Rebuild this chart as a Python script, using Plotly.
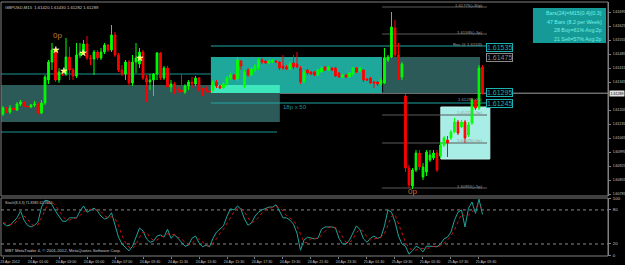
import plotly.graph_objects as go

# ---------------- data ----------------
opens = [
    1.61185, 1.61215, 1.61195, 1.61215, 1.61205, 1.61235, 1.61245, 1.61225, 1.6122, 1.6123,
    1.61235, 1.6119, 1.6124, 1.61355, 1.61445, 1.61505, 1.61355, 1.61395, 1.61385, 1.6147,
    1.61405, 1.61375, 1.6148, 1.6149, 1.61535, 1.61465, 1.6146, 1.61495, 1.61465, 1.61495,
    1.6153, 1.61505, 1.6158, 1.6148, 1.61405, 1.61385, 1.61445, 1.6134, 1.61445, 1.61435,
    1.61495, 1.61365, 1.61345, 1.61355, 1.61385, 1.6149, 1.61365, 1.61415, 1.6132, 1.61335,
    1.6131, 1.61305, 1.61295, 1.61325, 1.61345, 1.61335, 1.61365, 1.61305, 1.61315, 1.613,
    1.61305, 1.61345, 1.61325, 1.61315, 1.61335, 1.61365, 1.6138, 1.6136, 1.6145, 1.61325,
    1.61405, 1.6138, 1.61405, 1.61415, 1.61455, 1.6145, 1.6144, 1.61445, 1.6145, 1.61445,
    1.61425, 1.6142, 1.6141, 1.6144, 1.61435, 1.61415, 1.61345, 1.61405, 1.61395, 1.61395,
    1.6138, 1.61395, 1.6142, 1.61405, 1.61415, 1.61415, 1.6139, 1.6137, 1.6138, 1.6137,
    1.61385, 1.61415, 1.614, 1.61405, 1.6136, 1.61365, 1.61345, 1.61345, 1.61335, 1.6134,
    1.61455, 1.6147, 1.61615, 1.6148, 1.6137, 1.61275, 1.60915, 1.60825, 1.60905, 1.6099,
    1.6087, 1.60895, 1.60955, 1.60965, 1.6099, 1.60975, 1.6103, 1.61055, 1.61065, 1.61095,
    1.61145, 1.6112, 1.61145, 1.6108, 1.6114, 1.61255, 1.61215, 1.6142,
]
highs = [
    1.61225, 1.6122, 1.6123, 1.6122, 1.61245, 1.61255, 1.6125, 1.61235, 1.61235, 1.6125,
    1.61245, 1.61255, 1.6138, 1.61455, 1.6154, 1.61515, 1.61415, 1.61405, 1.61565, 1.6152,
    1.61415, 1.6154, 1.6154, 1.61555, 1.61575, 1.6148, 1.61505, 1.61505, 1.61515, 1.6154,
    1.61535, 1.6163, 1.61595, 1.6149, 1.6143, 1.61455, 1.61455, 1.6148, 1.6154, 1.61515,
    1.61505, 1.6138, 1.61385, 1.6139, 1.61495, 1.61495, 1.61425, 1.61425, 1.61355, 1.61345,
    1.61325, 1.61385, 1.61335, 1.61355, 1.6137, 1.61375, 1.6137, 1.61315, 1.61325, 1.6131,
    1.61355, 1.61355, 1.6133, 1.61345, 1.61375, 1.6139, 1.61385, 1.6147, 1.61455, 1.61405,
    1.61415, 1.6142, 1.61435, 1.61465, 1.61465, 1.61455, 1.61455, 1.6146, 1.61455, 1.6145,
    1.6148, 1.6143, 1.61445, 1.6148, 1.61495, 1.61425, 1.61405, 1.6141, 1.614, 1.614,
    1.6141, 1.61425, 1.61425, 1.61425, 1.6142, 1.6142, 1.61395, 1.61385, 1.61385, 1.61395,
    1.6142, 1.6142, 1.6142, 1.6141, 1.61365, 1.6137, 1.6135, 1.6135, 1.61365, 1.61515,
    1.6148, 1.61695, 1.61655, 1.6154, 1.61445, 1.61285, 1.6093, 1.60915, 1.61005, 1.61005,
    1.6094, 1.61005, 1.61005, 1.61005, 1.61005, 1.61045, 1.61075, 1.61075, 1.61105, 1.61165,
    1.61155, 1.61155, 1.61155, 1.61145, 1.61265, 1.6126, 1.6143, 1.6143,
]
lows = [
    1.61175, 1.6119, 1.61185, 1.612, 1.612, 1.61225, 1.6122, 1.6121, 1.61215, 1.6122,
    1.6118, 1.61185, 1.6123, 1.61335, 1.61405, 1.61345, 1.6134, 1.61375, 1.61375, 1.61355,
    1.61355, 1.61365, 1.61465, 1.6148, 1.61455, 1.6143, 1.6138, 1.61455, 1.61455, 1.61485,
    1.61495, 1.61495, 1.6147, 1.61395, 1.61375, 1.61355, 1.61325, 1.61325, 1.6139, 1.61415,
    1.61355, 1.61245, 1.61305, 1.61275, 1.61355, 1.61355, 1.61355, 1.61265, 1.61295, 1.61285,
    1.6129, 1.61275, 1.61285, 1.61305, 1.61315, 1.61325, 1.61295, 1.61275, 1.6129, 1.61285,
    1.61295, 1.61315, 1.6131, 1.6131, 1.61325, 1.61355, 1.61355, 1.6135, 1.61405, 1.61315,
    1.6137, 1.61375, 1.61395, 1.61405, 1.61435, 1.61435, 1.61435, 1.6144, 1.6144, 1.61405,
    1.61405, 1.61405, 1.61405, 1.6141, 1.61415, 1.61335, 1.6134, 1.6138, 1.6138, 1.61375,
    1.61375, 1.6139, 1.614, 1.614, 1.614, 1.6137, 1.61365, 1.61365, 1.61365, 1.61365,
    1.61375, 1.6139, 1.61395, 1.61345, 1.6135, 1.61335, 1.61315, 1.61325, 1.61325, 1.61335,
    1.61445, 1.61465, 1.6147, 1.61355, 1.61355, 1.60895, 1.60815, 1.6081, 1.60895, 1.60905,
    1.60855, 1.60875, 1.60945, 1.60955, 1.60895, 1.60965, 1.6102, 1.6097, 1.61055, 1.6109,
    1.6108, 1.61115, 1.6104, 1.6107, 1.6113, 1.61205, 1.61205, 1.61282,
]
closes = [
    1.61215, 1.61195, 1.61215, 1.61205, 1.61235, 1.61245, 1.61225, 1.6122, 1.6123, 1.61235,
    1.6119, 1.6124, 1.6137, 1.61445, 1.61505, 1.61355, 1.61395, 1.61385, 1.6147, 1.61405,
    1.61375, 1.6148, 1.6149, 1.61535, 1.61465, 1.6146, 1.61495, 1.61465, 1.61495, 1.6153,
    1.61505, 1.6158, 1.6148, 1.61405, 1.61385, 1.61445, 1.6134, 1.61445, 1.61465, 1.61495,
    1.61365, 1.61345, 1.61355, 1.61385, 1.6149, 1.61365, 1.61415, 1.6132, 1.61335, 1.6131,
    1.61305, 1.61295, 1.61325, 1.61345, 1.61335, 1.61365, 1.61305, 1.61295, 1.613, 1.61295,
    1.61345, 1.61325, 1.61315, 1.61335, 1.61365, 1.6138, 1.6136, 1.61455, 1.61425, 1.61395,
    1.6138, 1.6141, 1.61425, 1.61455, 1.61445, 1.6144, 1.6145, 1.61455, 1.61445, 1.61415,
    1.61415, 1.6141, 1.61435, 1.6142, 1.6142, 1.61345, 1.61395, 1.6139, 1.61385, 1.6138,
    1.61405, 1.61415, 1.61405, 1.6142, 1.61405, 1.61375, 1.6137, 1.6138, 1.6137, 1.6139,
    1.61415, 1.61395, 1.61415, 1.61355, 1.61355, 1.6134, 1.6134, 1.61335, 1.61355, 1.61465,
    1.6147, 1.6162, 1.6148, 1.6137, 1.61435, 1.60915, 1.6083, 1.60905, 1.6099, 1.6092,
    1.6092, 1.60995, 1.6098, 1.6099, 1.60905, 1.6103, 1.61065, 1.6104, 1.61095, 1.61145,
    1.6109, 1.61145, 1.61065, 1.6113, 1.61255, 1.61215, 1.61415, 1.61289,
]
stoch_main = [
    57, 52, 53, 60, 66, 78, 62, 53, 50, 53,
    59, 85, 97, 96, 89, 78, 69, 60, 60, 66,
    66, 66, 78, 87, 76, 80, 83, 78, 69, 64,
    66, 75, 53, 32, 20, 13, 8, 16, 32, 48,
    43, 29, 23, 25, 34, 36, 32, 46, 30, 36,
    30, 22, 16, 18, 30, 34, 22, 15, 18, 15,
    30, 41, 46, 52, 69, 82, 80, 87, 81, 64,
    53, 57, 69, 76, 80, 83, 85, 85, 89, 78,
    66, 66, 62, 55, 39, 9, 27, 32, 30, 29,
    30, 46, 50, 50, 50, 48, 30, 20, 20, 27,
    41, 52, 45, 29, 23, 30, 34, 30, 32, 52,
    80, 76, 59, 34, 20, 16, 2, 8, 16, 13,
    6, 16, 16, 15, 15, 20, 29, 32, 41, 62,
    76, 80, 50, 83, 94, 74, 99, 72,
]
stoch_signal = [
    58, 56, 54, 55, 60, 68, 69, 64, 55, 52,
    54, 66, 80, 93, 94, 88, 79, 69, 63, 62,
    64, 66, 70, 77, 80, 81, 80, 80, 77, 70,
    66, 68, 65, 53, 35, 22, 14, 12, 19, 32,
    41, 40, 32, 26, 27, 32, 34, 38, 36, 37,
    32, 29, 23, 19, 21, 27, 29, 24, 18, 16,
    21, 29, 39, 46, 56, 68, 77, 83, 83, 77,
    66, 58, 60, 67, 75, 80, 83, 84, 86, 84,
    78, 70, 65, 61, 52, 37, 23, 22, 30, 30,
    30, 35, 42, 49, 50, 49, 43, 33, 23, 22,
    29, 40, 46, 42, 32, 27, 29, 31, 32, 38,
    55, 69, 72, 56, 38, 23, 13, 9, 9, 12,
    12, 12, 13, 16, 15, 17, 21, 27, 34, 45,
    60, 73, 69, 71, 76, 84, 89, 80,
]
bars = list(range(len(closes)))

time_tick_bars = [0, 8, 16, 24, 32, 40, 48, 56, 64, 72, 80, 88, 96, 104, 112, 120, 128, 136]
time_tick_labels = [
    "23 Apr 2012", "24 Apr 01:00", "24 Apr 03:00", "24 Apr 05:00", "24 Apr 07:00",
    "24 Apr 09:30", "24 Apr 11:30", "24 Apr 13:30", "24 Apr 15:30", "24 Apr 17:30",
    "24 Apr 19:30", "24 Apr 21:30", "24 Apr 23:30", "25 Apr 01:30", "25 Apr 03:30",
    "25 Apr 05:30", "25 Apr 07:30", "25 Apr 09:30",
]
# 1.61275 sits under the bid-price box, as in the reference
price_ticks = [1.61695, 1.61625, 1.61555, 1.61485, 1.61415, 1.61345, 1.61205,
               1.61135, 1.61065, 1.60995, 1.60925, 1.60855, 1.60785]
stoch_ticks = [0, 20, 80, 100]

trade_bars = [15.1, 17.4, 22.9, 39.1]
trade_prices = [1.61505, 1.61400, 1.61490, 1.61465]

bid_price = 1.61289
info_lines = ["Bars(24)=M15(0.4)(0.3)", "47 Bars (8.2 per Week)",
              "28 Buy=61% Avg:2p", "21 Sell=57% Avg:2p"]

FONT = "Liberation Sans"
GREY_TXT = "#c8c8c8"

fig = go.Figure()

fig.add_trace(go.Candlestick(
    x=bars, open=opens, high=highs, low=lows, close=closes,
    increasing=dict(line=dict(color="#00ff00", width=1), fillcolor="#00ff00"),
    decreasing=dict(line=dict(color="#ff0000", width=1), fillcolor="#ff0000"),
    whiskerwidth=0, hoverinfo="skip", xaxis="x", yaxis="y", showlegend=False,
))
fig.add_trace(go.Scatter(
    x=trade_bars, y=trade_prices, mode="markers",
    marker=dict(symbol="star", size=5, color="#ffff30", line=dict(color="#ffffff", width=0.5)),
    hoverinfo="skip", showlegend=False, xaxis="x", yaxis="y",
))
fig.add_trace(go.Scatter(
    x=bars, y=stoch_main, mode="lines", line=dict(color="#1fa39c", width=1),
    hoverinfo="skip", showlegend=False, xaxis="x", yaxis="y2",
))
fig.add_trace(go.Scatter(
    x=bars, y=stoch_signal, mode="lines", line=dict(color="#d01010", width=1, dash="dot"),
    hoverinfo="skip", showlegend=False, xaxis="x", yaxis="y2",
))

shapes = []
def rect(x0, x1, y0, y1, fill, line=None, layer="below", xref="x", yref="y"):
    shapes.append(dict(type="rect", xref=xref, yref=yref, x0=x0, x1=x1, y0=y0, y1=y1,
                       fillcolor=fill, line=dict(width=1 if line else 0, color=line or fill),
                       layer=layer))
def hline(x0, x1, y, color, width=1, dash="solid", xref="x", yref="y"):
    shapes.append(dict(type="line", xref=xref, yref=yref, x0=x0, x1=x1, y0=y, y1=y,
                       line=dict(color=color, width=width, dash=dash), layer="below"))

# zones
rect(-0.6, 79.1, 1.61145, 1.6133, "#2c5a58")
rect(59.4, 108.3, 1.6129, 1.6147, "#1ea89c")
rect(59.4, 79.1, 1.6129, 1.6133, "#3ee6bc")
rect(108.6, 136.3, 1.6129, 1.6147, "#2c5a58")
rect(125.1, 139.1, 1.6096, 1.6122, "#a8eee6", line="#c0f4ee")
# lines
hline(-0.6, 59.4, 1.61385, "#1a9494")
hline(59.4, 138.3, 1.61525, "#1fa5a5", 1.2)
hline(59.4, 138.3, 1.6124, "#1fa5a5", 1.2)
hline(-0.6, 78.3, 1.61095, "#1a9494")
for p in [1.6172, 1.61585, 1.6118, 1.6104, 1.60815]:
    hline(108.3, 138.3, p, "#5a5a5a")
hline(0, 1, bid_price, "#a0a0a0", 1, xref="x domain")
# stochastic levels
hline(0, 1, 80, "#8a8a8a", 1, "dot", xref="x domain", yref="y2")
hline(0, 1, 20, "#8a8a8a", 1, "dot", xref="x domain", yref="y2")
# info box
rect(0.8764, 0.9967, 0.8386, 0.9764, "#159a98", xref="paper", yref="paper", layer="above")
# panel frames
shapes.append(dict(type="rect", xref="x domain", yref="y domain", x0=0, x1=1, y0=0, y1=1,
                   line=dict(color="#808080", width=1), fillcolor="rgba(0,0,0,0)", layer="above"))
shapes.append(dict(type="rect", xref="x domain", yref="y2 domain", x0=0, x1=1, y0=0, y1=1,
                   line=dict(color="#808080", width=1), fillcolor="rgba(0,0,0,0)", layer="above"))

ann = []
def text(x, y, s, size, color, xanchor="left", yanchor="middle", xref="x", yref="y", **kw):
    ann.append(dict(x=x, y=y, xref=xref, yref=yref, text=s, showarrow=False,
                    xanchor=xanchor, yanchor=yanchor,
                    font=dict(family=FONT, size=size, color=color), **kw))

text(0.004, 0.995, "GBPUSD,M15  1.61420 1.61430 1.61282 1.61289", 4.2, GREY_TXT,
     yanchor="top", xref="x domain", yref="y domain")
text(15.7, 1.6158, "0p", 8, "#c87a28", xanchor="center")
text(116.9, 1.6080, "0p", 8, "#c87a28", xanchor="center")
text(83.4, 1.6122, "18p x 50", 6, "#1e9090", xanchor="center")
for s, p in [("1.61775(+30p)", 1.6173), ("1.61595(+3p)", 1.61595), ("Res @ 1.61535", 1.61535),
             ("1.61295(-5p)", 1.6126), ("1.61215(+5p)", 1.61195), ("1.61075(+5p)", 1.61055),
             ("1.60855(+5p)", 1.60825)]:
    text(137.7, p, s, 4.2, "#9a9a9a", xanchor="right")
for s, p, c in [("1.61535", 1.6152, "#1fb0b0"), ("1.61475", 1.6147, "#8a8a8a"),
                ("1.61295", 1.61295, "#1fb0b0"), ("1.61245", 1.6124, "#1fb0b0")]:
    text(142, p, s, 7, c, xanchor="center", bordercolor=c, borderwidth=1, borderpad=0,
         bgcolor="#000000")
for k, s in enumerate(info_lines):
    text(0.9934, 0.9567 - k * 0.0335, s, 5.3, "#72f2e6", xanchor="right", xref="paper", yref="paper")
text(1.002, bid_price, "1.61289", 3.6, "#000000", xref="x domain", bgcolor="#e0e0e0",
     borderpad=0.5)
text(0.004, 0.985, "Stoch(8,3,3) 71.8385 62.3624", 3.6, GREY_TXT, yanchor="top",
     xref="x domain", yref="y2 domain")
text(0.004, 0.02, "MBT MetaTrader 4, © 2001-2012, MetaQuotes Software Corp.", 4.2, GREY_TXT,
     yanchor="bottom", xref="x domain", yref="y2 domain")

fig.update_layout(
    width=625, height=265,
    margin=dict(l=1, r=17, t=2, b=9, autoexpand=False),
    paper_bgcolor="#000000", plot_bgcolor="#000000",
    font=dict(family=FONT, color=GREY_TXT),
    showlegend=False, shapes=shapes, annotations=ann,
    xaxis=dict(range=[-0.571, 172.86], anchor="y2", domain=[0, 1],
               rangeslider=dict(visible=False), showgrid=False, zeroline=False,
               tickmode="array", tickvals=time_tick_bars, ticktext=time_tick_labels,
               ticks="outside", ticklen=2, tickcolor="#808080", ticklabelshift=7,
               tickfont=dict(size=3.6, color=GREY_TXT, family=FONT),
               showline=False),
    yaxis=dict(domain=[0.2362, 1], range=[1.60775, 1.61745], side="right", anchor="x",
               showgrid=False, zeroline=False, tickmode="array", tickvals=price_ticks,
               ticktext=[f"{v:.5f}" for v in price_ticks], ticks="outside", ticklen=2,
               ticklabelstandoff=1,
               tickcolor="#808080", tickfont=dict(size=3.5, color=GREY_TXT, family=FONT),
               showline=True, linecolor="#808080"),
    yaxis2=dict(domain=[0, 0.2283], range=[-1.2, 101], side="right", anchor="x",
                showgrid=False, zeroline=False, tickmode="array", tickvals=stoch_ticks,
                ticktext=[str(v) for v in stoch_ticks], ticks="outside", ticklen=2,
                ticklabelstandoff=1,
                tickcolor="#808080", tickfont=dict(size=4.3, color=GREY_TXT, family=FONT),
                showline=True, linecolor="#808080"),
)

fig.write_html("out.html")
